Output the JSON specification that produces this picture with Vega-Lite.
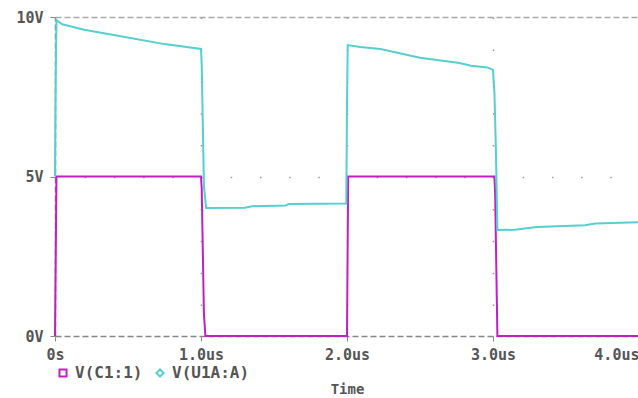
{
  "$schema": "https://vega.github.io/schema/vega-lite/v6.json",
  "width": 584,
  "height": 319,
  "autosize": {"type": "none"},
  "padding": {"left": 55, "top": 17, "right": 0, "bottom": 62},
  "background": "white",
  "config": {
    "view": {"stroke": null},
    "font": "DejaVu Sans Mono"
  },
  "data": {
    "values": [
      {"trace": "V(C1:1)", "t": 0, "v": 0},
      {"trace": "V(C1:1)", "t": 0.01, "v": 5},
      {"trace": "V(C1:1)", "t": 1.0, "v": 5},
      {"trace": "V(C1:1)", "t": 1.005, "v": 4.6},
      {"trace": "V(C1:1)", "t": 1.02, "v": 0.7},
      {"trace": "V(C1:1)", "t": 1.03, "v": 0},
      {"trace": "V(C1:1)", "t": 2.0, "v": 0},
      {"trace": "V(C1:1)", "t": 2.008, "v": 5},
      {"trace": "V(C1:1)", "t": 3.01, "v": 5},
      {"trace": "V(C1:1)", "t": 3.015, "v": 4.4},
      {"trace": "V(C1:1)", "t": 3.03, "v": 0},
      {"trace": "V(C1:1)", "t": 4.0, "v": 0},

      {"trace": "V(U1A:A)", "t": 0, "v": 5},
      {"trace": "V(U1A:A)", "t": 0.005, "v": 8.2},
      {"trace": "V(U1A:A)", "t": 0.01, "v": 9.9},
      {"trace": "V(U1A:A)", "t": 0.05, "v": 9.77},
      {"trace": "V(U1A:A)", "t": 0.2, "v": 9.6},
      {"trace": "V(U1A:A)", "t": 0.45, "v": 9.4},
      {"trace": "V(U1A:A)", "t": 0.75, "v": 9.15},
      {"trace": "V(U1A:A)", "t": 1.0, "v": 9.0},
      {"trace": "V(U1A:A)", "t": 1.005, "v": 8.5},
      {"trace": "V(U1A:A)", "t": 1.02, "v": 4.7},
      {"trace": "V(U1A:A)", "t": 1.035, "v": 4.01},
      {"trace": "V(U1A:A)", "t": 1.3, "v": 4.02},
      {"trace": "V(U1A:A)", "t": 1.35, "v": 4.07},
      {"trace": "V(U1A:A)", "t": 1.58, "v": 4.09},
      {"trace": "V(U1A:A)", "t": 1.6, "v": 4.14},
      {"trace": "V(U1A:A)", "t": 1.995, "v": 4.15},
      {"trace": "V(U1A:A)", "t": 2.0, "v": 7.2},
      {"trace": "V(U1A:A)", "t": 2.005, "v": 9.12},
      {"trace": "V(U1A:A)", "t": 2.09, "v": 9.06},
      {"trace": "V(U1A:A)", "t": 2.23, "v": 9.0},
      {"trace": "V(U1A:A)", "t": 2.5, "v": 8.72},
      {"trace": "V(U1A:A)", "t": 2.77, "v": 8.56},
      {"trace": "V(U1A:A)", "t": 2.85, "v": 8.47},
      {"trace": "V(U1A:A)", "t": 2.96, "v": 8.42},
      {"trace": "V(U1A:A)", "t": 3.0, "v": 8.34},
      {"trace": "V(U1A:A)", "t": 3.01, "v": 7.6},
      {"trace": "V(U1A:A)", "t": 3.02, "v": 5.8},
      {"trace": "V(U1A:A)", "t": 3.03, "v": 3.32},
      {"trace": "V(U1A:A)", "t": 3.15, "v": 3.33},
      {"trace": "V(U1A:A)", "t": 3.3, "v": 3.42},
      {"trace": "V(U1A:A)", "t": 3.63, "v": 3.47},
      {"trace": "V(U1A:A)", "t": 3.7, "v": 3.53},
      {"trace": "V(U1A:A)", "t": 4.0, "v": 3.57}
    ]
  },
  "mark": {"type": "line", "strokeWidth": 2, "interpolate": "linear"},
  "encoding": {
    "x": {
      "field": "t",
      "type": "quantitative",
      "scale": {"domain": [0, 4], "nice": false, "zero": false},
      "axis": {
        "values": [0, 1, 2, 3, 4],
        "labelExpr": "datum.value == 0 ? '0s' : format(datum.value, '.1f') + 'us'",
        "labelAlign": {"condition": {"test": "datum.value == 4", "value": "right"}, "value": "center"},
        "labelFont": "DejaVu Sans Mono",
        "labelFontSize": 15,
        "labelFontWeight": "bold",
        "labelColor": "#555555",
        "labelPadding": 6,
        "tickSize": 5,
        "tickColor": "#888888",
        "domainColor": "#888888",
        "domainDash": [6, 3],
        "domainWidth": 1.5,
        "grid": true,
        "gridColor": "#999999",
        "gridWidth": 1.5,
        "gridDash": [1.5, 30.4],
        "gridOpacity": {"condition": {"test": "datum.value == 0", "value": 0}, "value": 1},
        "title": "Time",
        "titleFont": "DejaVu Sans Mono",
        "titleFontSize": 14,
        "titleFontWeight": "bold",
        "titleColor": "#555555",
        "titlePadding": 20
      }
    },
    "y": {
      "field": "v",
      "type": "quantitative",
      "scale": {"domain": [0, 10], "nice": false},
      "axis": {
        "values": [0, 5, 10],
        "labelExpr": "datum.value + 'V'",
        "labelFont": "DejaVu Sans Mono",
        "labelFontSize": 15,
        "labelFontWeight": "bold",
        "labelColor": "#555555",
        "labelPadding": 7,
        "tickSize": 5,
        "tickColor": "#888888",
        "domainColor": "#888888",
        "domainDash": [6, 3],
        "domainWidth": 1.5,
        "grid": true,
        "gridColor": {"condition": {"test": "datum.value == 10", "value": "#aaaaaa"}, "value": "#999999"},
        "gridWidth": 1.5,
        "gridDash": {"condition": {"test": "datum.value == 10", "value": [6, 3]}, "value": [1.5, 27.7]},
        "gridOpacity": {"condition": {"test": "datum.value == 0", "value": 0}, "value": 1},
        "title": null
      }
    },
    "color": {
      "field": "trace",
      "type": "nominal",
      "scale": {"domain": ["V(C1:1)", "V(U1A:A)"], "range": ["#c020c0", "#55cfcf"]},
      "legend": {
        "orient": "none",
        "legendX": 0,
        "legendY": 348,
        "direction": "horizontal",
        "title": null,
        "padding": 0,
        "labelFont": "DejaVu Sans Mono",
        "labelFontSize": 16,
        "labelFontWeight": "bold",
        "labelColor": "#555555",
        "labelOffset": 4,
        "columnPadding": 9,
        "symbolSize": 50,
        "symbolStrokeWidth": 2,
        "symbolFillColor": "white",
        "encode": {
          "symbols": {
            "update": {
              "shape": {"signal": "datum.value == 'V(C1:1)' ? 'square' : 'diamond'"},
              "fill": {"value": "white"}
            }
          }
        }
      }
    }
  }
}
